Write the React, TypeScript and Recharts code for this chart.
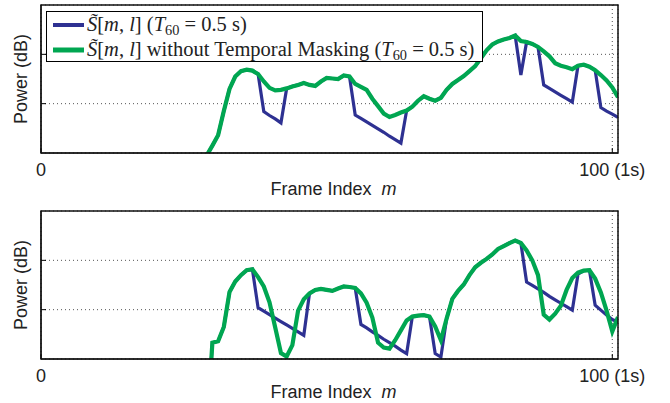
import { LineChart, Line, XAxis, YAxis, CartesianGrid } from "recharts";

// frame index of the first value in every series below
const FIRST_FRAME = 28;

// upper panel
const topBlue = [
  -0.45, -0.05, 0.15, 0.36, 0.85, 1.3, 1.55, 1.66, 1.69, 1.67, 1.6,
  0.84, 0.76, 0.69, 0.61, 1.31, 1.35, 1.38, 1.42, 1.38, 1.36, 1.45, 1.52, 1.51, 1.5, 1.57, 1.55,
  0.77, 0.7, 0.63, 0.56, 0.49, 0.42, 0.34, 0.27, 0.2, 0.86,
  0.94, 1.06, 1.15, 1.1, 1.06, 1.12, 1.28, 1.4, 1.48, 1.56, 1.66, 1.76, 1.92, 2.08, 2.2, 2.26, 2.3, 2.33, 2.38,
  1.58, 2.25, 2.21, 2.15, 1.38, 1.31, 1.24, 1.17, 1.1, 1.03, 1.77, 1.79, 1.75, 1.68, 0.92, 0.85, 0.79, 0.72,
];
const topGreen = [
  -0.45, -0.05, 0.15, 0.36, 0.85, 1.3, 1.55, 1.66, 1.69, 1.67, 1.6,
  1.45, 1.32, 1.27, 1.28, 1.31, 1.35, 1.38, 1.42, 1.38, 1.36, 1.45, 1.52, 1.51, 1.5, 1.57, 1.55,
  1.4, 1.34, 1.28, 1.1, 0.95, 0.8, 0.73, 0.77, 0.82, 0.86,
  0.94, 1.06, 1.15, 1.1, 1.06, 1.12, 1.28, 1.4, 1.48, 1.56, 1.66, 1.76, 1.92, 2.08, 2.2, 2.26, 2.3, 2.33, 2.38,
  2.27, 2.25, 2.21, 2.15, 2.06, 1.96, 1.82, 1.77, 1.74, 1.7, 1.77, 1.79, 1.75, 1.68, 1.58, 1.47, 1.33, 1.13,
];

// lower panel
const bottomBlue = [
  null, -1.5, 0.33, 0.36, 0.65, 1.36, 1.57, 1.7, 1.8, 1.82,
  1.04, 0.97, 0.9, 0.83, 0.76, 0.69, 0.62, 0.55, 0.48,
  1.33, 1.4, 1.42, 1.4, 1.38, 1.43, 1.47, 1.46, 1.44,
  0.7, 0.63, 0.55, 0.48, 0.4, 0.33, 0.26, 0.18, 0.11,
  0.86, 0.88, 0.89, 0.86, 0.11, 0.04, 0.82,
  1.22, 1.38, 1.51, 1.7, 1.86, 1.95, 2.03, 2.12, 2.23, 2.29, 2.35, 2.4, 2.35,
  1.56, 1.49, 1.42, 1.35, 1.27, 1.2, 1.13, 1.06, 0.99, 1.72, 1.79, 1.8, 1.09, 0.99, 0.89, 0.8, 0.75,
];
const bottomGreen = [
  null, -1.5, 0.33, 0.36, 0.65, 1.36, 1.57, 1.7, 1.8, 1.82,
  1.66, 1.47, 1.15, 0.64, 0.12, 0.05, 0.28, 0.98, 1.21,
  1.33, 1.4, 1.42, 1.4, 1.38, 1.43, 1.47, 1.46, 1.44,
  1.33, 1.14, 0.84, 0.33, 0.23, 0.21, 0.38, 0.58, 0.78,
  0.86, 0.88, 0.89, 0.86, 0.66, 0.38, 0.82,
  1.22, 1.38, 1.51, 1.7, 1.86, 1.95, 2.03, 2.12, 2.23, 2.29, 2.35, 2.4, 2.35,
  2.2, 2.0, 1.7, 0.9, 0.8, 0.92, 1.08, 1.4, 1.64, 1.75, 1.79, 1.8, 1.63, 1.35, 0.98, 0.56, 0.85,
];

const xTicks = [0, 100];
const yTicks = [1, 2];
const xDomain = [0, 101];
const yDomain = [0, 3];

const BLUE = "#2e3192";
const GREEN = "#00a651";
const SANS = '"Liberation Sans", Arial, sans-serif';
const SERIF = '"Liberation Serif", "Times New Roman", serif';

const buildRows = (blue: (number | null)[], green: (number | null)[]) =>
  blue.map((b, i) => ({ m: FIRST_FRAME + i, masked: b, unmasked: green[i] }));

// keeps the grid lines but draws no tick text
const noText = () => <g />;

const makeXLabel = (lift: number) => (props: any) => {
  const { x, y, width, height } = props.viewBox;
  return (
    <text
      x={x + width / 2 + 4}
      y={y + height - lift}
      textAnchor="middle"
      fontSize={18}
      fontFamily={SANS}
      fill="#222"
    >
      Frame Index
      <tspan dx={10} fontStyle="italic">
        m
      </tspan>
    </text>
  );
};

const Panel = ({ rows, top, lift }: { rows: any[]; top: number; lift: number }) => (
  <div style={{ position: "absolute", left: 0, top, width: 670, height: 200 }}>
    <LineChart width={670} height={200} data={rows} margin={{ top: 5, right: 52, bottom: 0, left: 0 }}>
      <CartesianGrid stroke="#555" strokeDasharray="1 3" />
      <XAxis
        dataKey="m"
        type="number"
        domain={xDomain}
        ticks={xTicks}
        interval={0}
        allowDataOverflow
        height={47}
        tickSize={-5}
        tickMargin={15}
        stroke="#000"
        tick={{ fill: "#222", fontSize: 18, fontFamily: SANS }}
        tickFormatter={(v) => (v === 100 ? "100 (1s)" : String(v))}
        label={makeXLabel(lift)}
      />
      <YAxis
        type="number"
        domain={yDomain}
        ticks={yTicks}
        interval={0}
        allowDataOverflow
        width={41}
        tickSize={-5}
        tick={noText}
        stroke="#000"
        label={{
          value: "Power (dB)",
          angle: -90,
          position: "center",
          fontSize: 18,
          fontFamily: SANS,
          fill: "#222",
        }}
      />
      <Line dataKey="masked" stroke={BLUE} strokeWidth={3.2} dot={false} isAnimationActive={false} />
      <Line dataKey="unmasked" stroke={GREEN} strokeWidth={4.2} dot={false} isAnimationActive={false} />
    </LineChart>
    {/* axes box around the plot area */}
    <svg
      width={670}
      height={200}
      style={{ position: "absolute", left: 0, top: 0, zIndex: 2, pointerEvents: "none" }}
    >
      <rect x={41} y={5} width={577} height={148} fill="none" stroke="#111" strokeWidth={1.5} />
    </svg>
  </div>
);

const sym = (
  <>
    <i>S̃</i>[<i>m</i>, <i>l</i>]
  </>
);
const t60 = (
  <>
    (<i>T</i>
    <sub style={{ fontSize: "0.7em", verticalAlign: "-0.25em" }}>60</sub> = 0.5 s)
  </>
);

const legendItems = [
  { color: BLUE, width: 4, text: <>{sym} {t60}</> },
  { color: GREEN, width: 5, text: <>{sym} without Temporal Masking {t60}</> },
];

const Legend = () => (
  <div
    style={{
      position: "absolute",
      left: 46,
      top: 11,
      width: 437,
      height: 51,
      zIndex: 3,
      boxSizing: "border-box",
      border: "1px solid #000",
      background: "#fff",
    }}
  >
    {legendItems.map((it, i) => (
      <div
        key={i}
        style={{
          position: "absolute",
          left: 6,
          top: 1 + i * 25,
          height: 24,
          display: "flex",
          alignItems: "center",
          whiteSpace: "nowrap",
          fontFamily: SERIF,
          fontSize: 20.5,
          color: "#222",
          lineHeight: 1,
        }}
      >
        <svg width={31} height={8} style={{ marginRight: 3 }}>
          <line x1={0} x2={31} y1={4} y2={4} stroke={it.color} strokeWidth={it.width} />
        </svg>
        <span>{it.text}</span>
      </div>
    ))}
  </div>
);

const App = () => (
  <div
    style={{
      position: "absolute",
      left: 0,
      top: 0,
      width: 670,
      height: 403,
      overflow: "hidden",
      background: "#fff",
    }}
  >
    <Panel rows={buildRows(topBlue, topGreen)} top={0} lift={5} />
    <Panel rows={buildRows(bottomBlue, bottomGreen)} top={206} lift={8} />
    <Legend />
  </div>
);

export default App;
